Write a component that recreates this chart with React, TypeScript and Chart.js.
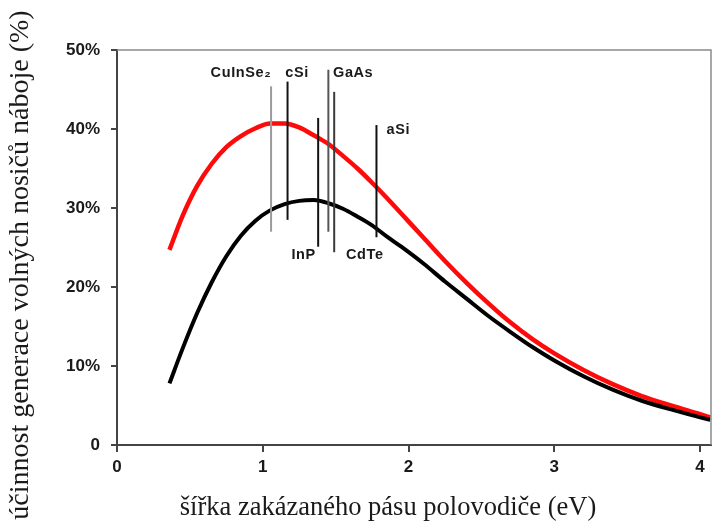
import React, { useEffect, useRef } from "react";
import { Chart, registerables } from "chart.js";

Chart.register(...registerables);

// ---- data ----
const energyEv = [0.36, 0.45, 0.55, 0.65, 0.75, 0.85, 0.95, 1.05, 1.15, 1.25, 1.35, 1.45, 1.55, 1.65, 1.75, 1.85, 1.95, 2.1, 2.25, 2.4, 2.55, 2.7, 2.85, 3.0, 3.2, 3.4, 3.6, 3.8, 4.0, 4.07];
const redEfficiency = [24.7, 29.0, 32.8, 35.6, 37.7, 39.1, 40.1, 40.7, 40.7, 40.2, 39.2, 38.1, 36.6, 35.0, 33.2, 31.3, 29.3, 26.3, 23.3, 20.5, 17.9, 15.5, 13.4, 11.6, 9.5, 7.7, 6.2, 5.0, 3.9, 3.5];
const blackEfficiency = [7.8, 12.2, 16.7, 20.6, 23.9, 26.5, 28.4, 29.7, 30.5, 30.9, 31.0, 30.6, 29.9, 28.9, 27.8, 26.4, 25.1, 23.0, 20.7, 18.5, 16.3, 14.3, 12.4, 10.7, 8.7, 7.0, 5.6, 4.5, 3.5, 3.2];

const materialNames = ["CuInSe₂", "cSi", "InP", "GaAs", "CdTe", "aSi"];
const materialGap = [1.057, 1.17, 1.38, 1.45, 1.49, 1.78];
const markerTop = [45.4, 46.0, 41.4, 47.5, 44.7, 40.5];
const markerBottom = [27.0, 28.5, 25.1, 27.0, 24.4, 26.3];
const labelX = [0.85, 1.235, 1.28, 1.62, 1.70, 1.93];
const labelY = [47.1, 47.1, 24.05, 47.1, 24.05, 39.9];

const xTickValues = [0, 1, 2, 3, 4];
const yTickValues = [0, 10, 20, 30, 40, 50];
const yTickLabels = ["0", "10%", "20%", "30%", "40%", "50%"];

const xTitle = "šířka zakázaného pásu polovodiče (eV)";
const yTitle = "účinnost generace volných nosičů náboje (%)";

const markerColors = ["#9a9a9a", "#111111", "#111111", "#555555", "#3a3a3a", "#111111"];

const decorPlugin = {
  id: "decor",
  afterDatasetsDraw(chart: any) {
    const { ctx, chartArea, scales } = chart;
    const xs = scales.x;
    const ys = scales.y;
    ctx.save();
    // frame top + right
    ctx.strokeStyle = "#8a8a8a";
    ctx.lineWidth = 1.5;
    ctx.beginPath();
    ctx.moveTo(chartArea.left, chartArea.top);
    ctx.lineTo(chartArea.right, chartArea.top);
    ctx.lineTo(chartArea.right, chartArea.bottom);
    ctx.stroke();
    // material labels
    ctx.fillStyle = "#1a1a1a";
    ctx.font = "bold 14.5px 'Liberation Sans', Arial, sans-serif";
    (ctx as any).letterSpacing = "0.6px";
    ctx.textAlign = "center";
    ctx.textBaseline = "middle";
    materialNames.forEach((name, i) => {
      ctx.fillText(name, xs.getPixelForValue(labelX[i]), ys.getPixelForValue(labelY[i]));
    });
    (ctx as any).letterSpacing = "0px";
    // axis titles
    ctx.fillStyle = "#1a1a1a";
    ctx.textAlign = "center";
    ctx.textBaseline = "middle";
    ctx.font = "26.5px 'Liberation Serif', 'Times New Roman', serif";
    ctx.fillText(xTitle, 388, 508);
    ctx.font = "28px 'Liberation Serif', 'Times New Roman', serif";
    ctx.translate(21, 265);
    ctx.rotate(-Math.PI / 2);
    ctx.fillText(yTitle, 0, 0);
    ctx.restore();
  },
};

export default function App() {
  const canvasRef = useRef<HTMLCanvasElement | null>(null);

  useEffect(() => {
    if (!canvasRef.current) return;
    const curve = (vals: number[]) => energyEv.map((x, i) => ({ x, y: vals[i] }));
    const markerSets = materialNames.map((name, i) => ({
      label: name,
      data: [
        { x: materialGap[i], y: markerBottom[i] },
        { x: materialGap[i], y: markerTop[i] },
      ],
      borderColor: markerColors[i],
      borderWidth: 2,
      pointRadius: 0,
      tension: 0,
      order: 0,
    }));
    const chart = new Chart(canvasRef.current, {
      type: "line",
      data: {
        datasets: [
          {
            label: "red",
            data: curve(redEfficiency),
            borderColor: "#ff0a0a",
            borderWidth: 4.5,
            pointRadius: 0,
            cubicInterpolationMode: "monotone",
            order: 2,
          },
          {
            label: "black",
            data: curve(blackEfficiency),
            borderColor: "#000000",
            borderWidth: 4,
            pointRadius: 0,
            cubicInterpolationMode: "monotone",
            order: 1,
          },
          ...markerSets,
        ],
      },
      options: {
        animation: false,
        responsive: false,
        maintainAspectRatio: false,
        layout: { padding: { top: 50, right: 1, left: 0, bottom: 0 } },
        plugins: {
          legend: { display: false },
          tooltip: { enabled: false },
          title: { display: false },
        },
        scales: {
          x: {
            type: "linear",
            min: 0,
            max: 4.075,
            afterBuildTicks: (scale: any) => {
              scale.ticks = xTickValues.map((v) => ({ value: v }));
            },
            afterFit: (scale: any) => {
              scale.height = 79;
            },
            grid: { drawOnChartArea: false, drawTicks: true, tickLength: 7, color: "#444", lineWidth: 2 },
            border: { display: true, color: "#444", width: 2 },
            ticks: {
              color: "#1a1a1a",
              padding: 5,
              maxRotation: 0,
              font: { family: "'Liberation Sans', Arial, sans-serif", size: 17, weight: "bold" },
              callback: (v: any) => String(v),
            },
          },
          y: {
            type: "linear",
            min: 0,
            max: 50,
            afterBuildTicks: (scale: any) => {
              scale.ticks = yTickValues.map((v) => ({ value: v }));
            },
            afterFit: (scale: any) => {
              scale.width = 117;
            },
            grid: { drawOnChartArea: false, drawTicks: true, tickLength: 6, color: "#444", lineWidth: 2 },
            border: { display: true, color: "#444", width: 2 },
            ticks: {
              color: "#1a1a1a",
              padding: 11,
              font: { family: "'Liberation Sans', Arial, sans-serif", size: 17, weight: "bold" },
              callback: (v: any) => yTickLabels[yTickValues.indexOf(Number(v))] ?? "",
            },
          },
        },
      },
      plugins: [decorPlugin],
    } as any);
    return () => chart.destroy();
  }, []);

  return (
    <div style={{ position: "absolute", left: 0, top: 0, width: 712, height: 524, background: "#fff" }}>
      <canvas ref={canvasRef} width={712} height={524} style={{ width: 712, height: 524, display: "block" }} />
    </div>
  );
}
